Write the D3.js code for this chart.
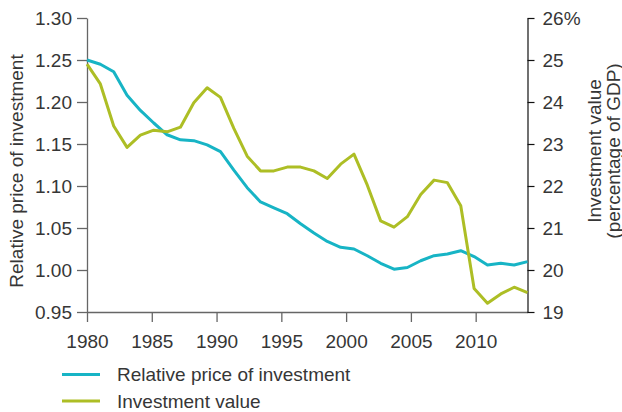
<!DOCTYPE html>
<html>
<head>
<meta charset="utf-8">
<script src="https://d3js.org/d3.v7.min.js"></script>
<style>
    body { margin: 0; background: #fff; }
    text { font-family: "Liberation Sans", Arial, sans-serif; fill: #363636; }
</style>
</head>
<body>
<div id="container"></div>
<script>
var years = [1980, 1981, 1982, 1983, 1984, 1985, 1986, 1987, 1988, 1989,
    1990, 1991, 1992, 1993, 1994, 1995, 1996, 1997, 1998, 1999,
    2000, 2001, 2002, 2003, 2004, 2005, 2006, 2007, 2008, 2009,
    2010, 2011, 2012, 2013];

// relative price of investment (left axis)
var priceValues = [1.250, 1.245, 1.236, 1.208, 1.190, 1.175, 1.161, 1.155, 1.154, 1.149,
    1.141, 1.119, 1.098, 1.081, 1.074, 1.067, 1.055, 1.044, 1.034, 1.027,
    1.025, 1.017, 1.008, 1.001, 1.003, 1.011, 1.017, 1.019, 1.023, 1.016,
    1.006, 1.008, 1.006, 1.010];

// investment, percent of GDP (right axis)
var investValues = [24.90, 24.43, 23.43, 22.92, 23.21, 23.33, 23.29, 23.40, 23.98, 24.34,
    24.11, 23.37, 22.71, 22.36, 22.36, 22.45, 22.45, 22.36, 22.18, 22.52,
    22.76, 22.02, 21.17, 21.02, 21.27, 21.80, 22.14, 22.08, 21.53, 19.56,
    19.21, 19.43, 19.59, 19.46];

var xTicks = [1980, 1985, 1990, 1995, 2000, 2005, 2010];
var leftTicks = [0.95, 1.00, 1.05, 1.10, 1.15, 1.20, 1.25, 1.30];
var rightTicks = [19, 20, 21, 22, 23, 24, 25, 26];

var seriesNames = ["Relative price of investment", "Investment value"];
var seriesColors = ["#17b4c5", "#adbe25"];

drawChart();

function drawChart() {
    var width = 622, height = 412;
    var left = 87, right = 527.5, top = 18, bottom = 312;

    var svg = d3.select("#container")
        .append("svg")
        .attr("width", width)
        .attr("height", height);

    var xAxisScale = d3.scaleLinear()
        .domain([1980, 2014])
        .range([left, right]);

    var x = d3.scalePoint()
        .domain(years)
        .range([left, right]);

    var yLeft = d3.scaleLinear()
        .domain([0.95, 1.30])
        .range([bottom, top]);

    var yRight = d3.scaleLinear()
        .domain([19, 26])
        .range([bottom, top]);

    var fontSize = "19px";

    // axes
    var gx = svg.append("g")
        .attr("transform", "translate(0," + bottom + ")")
        .call(d3.axisBottom(xAxisScale)
            .tickValues(xTicks)
            .tickFormat(d3.format("d"))
            .tickSize(10)
            .tickSizeOuter(0)
            .tickPadding(13));

    var gl = svg.append("g")
        .attr("transform", "translate(" + left + ",0)")
        .call(d3.axisLeft(yLeft)
            .tickValues(leftTicks)
            .tickFormat(d3.format(".2f"))
            .tickSize(10)
            .tickSizeOuter(0)
            .tickPadding(5));

    var gr = svg.append("g")
        .attr("transform", "translate(" + right + ",0)")
        .call(d3.axisRight(yRight)
            .tickValues(rightTicks)
            .tickFormat(function (d) {
                return d === 26 ? d + "%" : d;
            })
            .tickSize(7)
            .tickSizeOuter(0)
            .tickPadding(8));

    [gx, gl].forEach(function (g) {
        g.selectAll("path, line").attr("stroke", "#666").attr("stroke-width", 1.3);
    });
    gr.selectAll("path, line").attr("stroke", "#111").attr("stroke-width", 1.2);

    svg.selectAll(".tick text")
        .attr("fill", "#363636")
        .style("font-size", fontSize)
        .style("font-family", "'Liberation Sans', Arial, sans-serif");

    // lines
    var priceLine = d3.line()
        .x(function (d, i) { return x(years[i]); })
        .y(function (d) { return yLeft(d); });

    var investLine = d3.line()
        .x(function (d, i) { return x(years[i]); })
        .y(function (d) { return yRight(d); });

    svg.append("path")
        .datum(priceValues)
        .attr("fill", "none")
        .attr("stroke", seriesColors[0])
        .attr("stroke-width", 3)
        .attr("stroke-linejoin", "round")
        .attr("d", priceLine);

    svg.append("path")
        .datum(investValues)
        .attr("fill", "none")
        .attr("stroke", seriesColors[1])
        .attr("stroke-width", 3)
        .attr("stroke-linejoin", "round")
        .attr("d", investLine);

    // axis titles
    svg.append("text")
        .attr("transform", "translate(23,171) rotate(-90)")
        .attr("text-anchor", "middle")
        .style("font-size", fontSize)
        .text("Relative price of investment");

    var rt = svg.append("text")
        .attr("transform", "translate(601,151) rotate(-90)")
        .attr("text-anchor", "middle")
        .style("font-size", fontSize);
    rt.append("tspan").attr("x", 0).attr("y", 0).text("Investment value");
    rt.append("tspan").attr("x", 0).attr("y", 18.5).text("(percentage of GDP)");

    // legend
    var legend = svg.selectAll(".legend")
        .data(seriesNames)
        .enter()
        .append("g")
        .attr("class", "legend")
        .attr("transform", function (d, i) {
            return "translate(62," + (374.5 + i * 26.5) + ")";
        });

    legend.append("line")
        .attr("x1", 0)
        .attr("x2", 38)
        .attr("stroke", function (d, i) { return seriesColors[i]; })
        .attr("stroke-width", 3);

    legend.append("text")
        .attr("x", 55)
        .attr("y", 6.5)
        .style("font-size", "19px")
        .text(function (d) { return d; });
}
</script>
</body>
</html>
